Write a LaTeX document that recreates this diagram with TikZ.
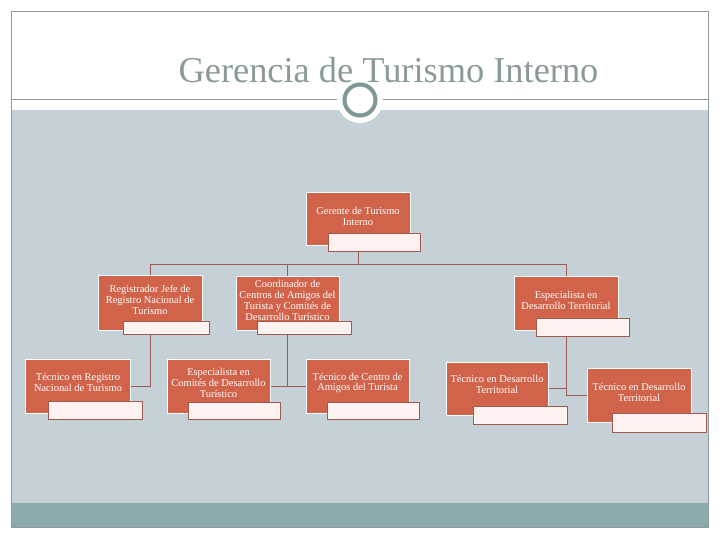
\documentclass[tikz,border=0pt]{standalone}
\usepackage{fontspec}
\setmainfont{Liberation Serif}
\definecolor{bggrey}{HTML}{C6D1D7}
\definecolor{bandteal}{HTML}{8AABAB}
\definecolor{framegrey}{HTML}{8C9C9C}
\definecolor{ringcol}{HTML}{7F9797}
\definecolor{titlecol}{HTML}{8A9A9A}
\definecolor{boxred}{HTML}{D1634A}
\definecolor{labfill}{HTML}{FDF2F0}
\definecolor{labedge}{HTML}{A05A52}
\definecolor{linkcol}{HTML}{9C5B55}
\begin{document}
\begin{tikzpicture}[x=1bp,y=-1bp,
  orgbox/.style={fill=boxred, draw=white, line width=1bp, inner sep=0pt},
  orgtxt/.style={text=white, font=\fontsize{10.5}{11}\selectfont, align=center, inner sep=0pt},
  labbox/.style={fill=labfill, draw=labedge, line width=0.8bp, inner sep=0pt},
  link/.style={draw=linkcol, line width=1bp},
  title/.style={text=titlecol, font=\fontsize{36.5}{40}\selectfont, inner sep=0pt}]
\useasboundingbox (0,0) rectangle (720,540);
\fill[white] (0,0) rectangle (720,540);
% background bands
\fill[bggrey] (11,110) rectangle (708,503);
\fill[bandteal] (11,503) rectangle (708,527);
\draw[framegrey, line width=1bp] (11,12) rectangle (708,527);
\draw[framegrey, line width=1bp] (11,100) -- (708,100);
\fill[white] (360,100) circle[radius=23];
\node[title, anchor=base] (title) at (388.5,83) {Gerencia de Turismo Interno};
\draw[ringcol, line width=4bp] (360,100) circle[radius=15.5];

% boxes (positions)
\node[orgbox, minimum width=104bp, minimum height=52bp] (ger) at (358,219) {};
\node[orgbox, minimum width=104bp, minimum height=54bp] (reg) at (150,303) {};
\node[orgbox, minimum width=103bp, minimum height=53bp] (coord) at (287.5,303.5) {};
\node[orgbox, minimum width=104bp, minimum height=53bp] (espdt) at (566,303.5) {};
\node[orgbox, minimum width=104bp, minimum height=54bp] (tecreg) at (78,386) {};
\node[orgbox, minimum width=103bp, minimum height=54bp] (escom) at (218.5,386) {};
\node[orgbox, minimum width=103bp, minimum height=54bp] (teccen) at (357.5,386) {};
\node[orgbox, minimum width=102bp, minimum height=53bp] (tecdtl) at (497,388.5) {};
\node[orgbox, minimum width=104bp, minimum height=54bp] (tecdtr) at (639,395) {};

% label boxes
\node[labbox, minimum width=92bp, minimum height=18bp] (gerL) at (374,242) {};
\node[labbox, minimum width=86bp, minimum height=13bp] (regL) at (166,327.5) {};
\node[labbox, minimum width=94bp, minimum height=13bp] (coordL) at (304,327.5) {};
\node[labbox, minimum width=93bp, minimum height=18bp] (espdtL) at (582.5,327) {};
\node[labbox, minimum width=94bp, minimum height=18bp] (tecregL) at (95,410) {};
\node[labbox, minimum width=92bp, minimum height=17bp] (escomL) at (234,410.5) {};
\node[labbox, minimum width=92bp, minimum height=17bp] (teccenL) at (373,410.5) {};
\node[labbox, minimum width=94bp, minimum height=18bp] (tecdtlL) at (520,415) {};
\node[labbox, minimum width=94bp, minimum height=19bp] (tecdtrL) at (659,422.5) {};

% connectors
\coordinate (bus) at (358,264);
\draw[link] (gerL.south -| ger.south) -- (bus);
\draw[link] (reg.north) -- (reg.north |- bus) -- (espdt.north |- bus) -- (espdt.north);
\draw[link] (coord.north) -- (coord.north |- bus);
\draw[link] (reg.south |- regL.south) |- (tecreg.east);
\draw[link] (coord.south |- coordL.south) -- (coord.south |- escom.east);
\draw[link] (escom.east) -- (teccen.west);
\draw[link] (espdt.south |- espdtL.south) |- (tecdtr.west);
\draw[link] (tecdtl.east) -- (tecdtl.east -| espdt.south);

% texts
\node[orgtxt] (gerT) at ([yshift=3bp]ger.center) {Gerente de Turismo\\Interno};
\node[orgtxt] (regT) at ([yshift=3bp]reg.center) {Registrador Jefe de\\Registro Nacional de\\Turismo};
\node[orgtxt] (coordT) at ([yshift=3.5bp]coord.center) {Coordinador de\\Centros de Amigos del\\Turista y Comités de\\Desarrollo Turístico};
\node[orgtxt] (espdtT) at ([yshift=3.5bp]espdt.center) {Especialista en\\Desarrollo Territorial};
\node[orgtxt] (tecregT) at ([yshift=3.5bp]tecreg.center) {Técnico en Registro\\Nacional de Turismo};
\node[orgtxt] (escomT) at ([yshift=3bp]escom.center) {Especialista en\\Comités de Desarrollo\\Turístico};
\node[orgtxt] (teccenT) at ([yshift=3bp]teccen.center) {Técnico de Centro de\\Amigos del Turista};
\node[orgtxt] (tecdtlT) at ([yshift=4bp]tecdtl.center) {Técnico en Desarrollo\\Territorial};
\node[orgtxt] (tecdtrT) at ([yshift=3bp]tecdtr.center) {Técnico en Desarrollo\\Territorial};
\end{tikzpicture}
\end{document}
